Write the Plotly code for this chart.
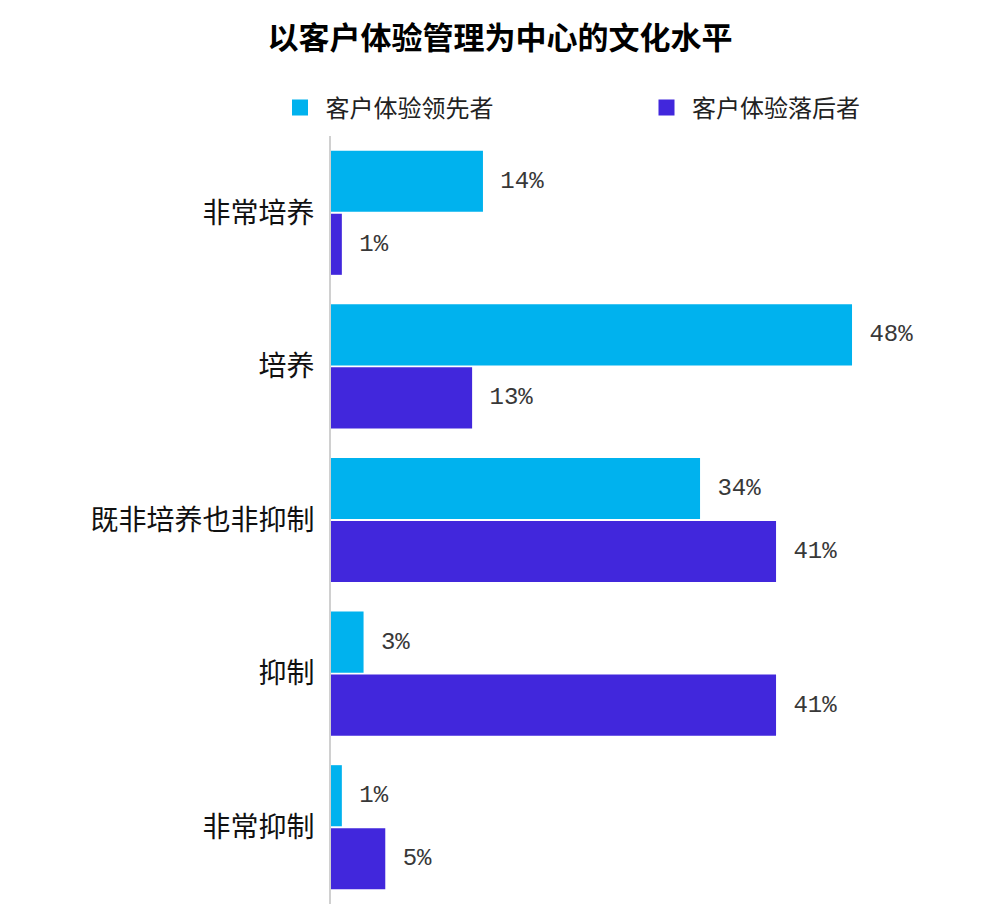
import plotly.graph_objects as go

categories = ["非常培养", "培养", "既非培养也非抑制", "抑制", "非常抑制"]
leaders = [14, 48, 34, 3, 1]
laggards = [1, 13, 41, 41, 5]
series_names = ["客户体验领先者", "客户体验落后者"]
colors = ["#00B2EE", "#4127DC"]
title_text = "以客户体验管理为中心的文化水平"

legend_ids = ["legend", "legend2"]

fig = go.Figure()
for name, vals, col, lid in zip(series_names, [leaders, laggards], colors, legend_ids):
    fig.add_trace(go.Bar(
        y=categories, x=vals, orientation="h", name=name,
        marker=dict(color=col, line=dict(width=0)),
        texttemplate="\u00a0%{x}%", textposition="outside",
        textfont=dict(family="Liberation Mono", size=24, color="#383838"),
        cliponaxis=False, showlegend=False,
    ))
    fig.add_trace(go.Scatter(
        x=[None], y=[None], mode="markers", name="\u00a0" + name,
        marker=dict(symbol="square", size=16, color=col),
        showlegend=True, legend=lid,
    ))

# page body adds an 8px offset, so layout positions are expressed relative to it
legend_common = dict(orientation="h", xref="container", xanchor="left",
                     yref="container", yanchor="middle", y=1 - 100 / 920,
                     itemsizing="trace", bgcolor="rgba(0,0,0,0)",
                     font=dict(family="Noto Sans CJK SC", size=24, color="#222222"))

fig.update_layout(
    width=1000, height=920,
    margin=dict(l=323, r=80, t=128, b=24, autoexpand=False),
    paper_bgcolor="white", plot_bgcolor="white",
    barmode="group", bargap=0.18, bargroupgap=0.03,
    title=dict(text="<b>" + title_text + "</b>", x=0.492, xref="container",
               y=1 - 30 / 920, yref="container", yanchor="middle", xanchor="center",
               font=dict(family="Noto Sans CJK SC", size=31, color="#000000")),
    legend=dict(x=0.272, **legend_common),
    legend2=dict(x=0.6385, **legend_common),
    font=dict(family="Noto Sans CJK SC"),
)
fig.update_xaxes(range=[0, 55], showgrid=False, zeroline=False, showticklabels=False,
                 showline=False, ticks="")
fig.update_yaxes(autorange="reversed", showgrid=False, zeroline=False, showline=True,
                 linecolor="#D0D0D0", linewidth=2, ticks="", ticklabelstandoff=9,
                 tickfont=dict(family="Noto Sans CJK SC", size=28, color="#111111"))

fig.write_html("out.html")
